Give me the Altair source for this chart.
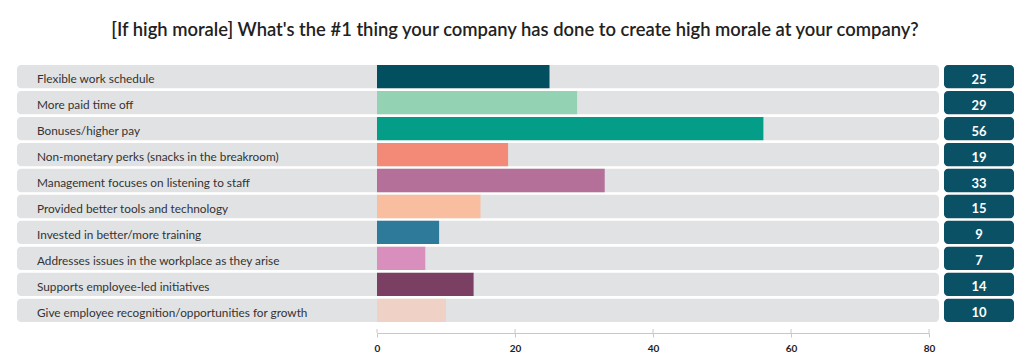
import altair as alt
import pandas as pd

categories = [
    "Flexible work schedule",
    "More paid time off",
    "Bonuses/higher pay",
    "Non-monetary perks (snacks in the breakroom)",
    "Management focuses on listening to staff",
    "Provided better tools and technology",
    "Invested in better/more training",
    "Addresses issues in the workplace as they arise",
    "Supports employee-led initiatives",
    "Give employee recognition/opportunities for growth",
]
values = [25, 29, 56, 19, 33, 15, 9, 7, 14, 10]
colors = ["#02505f", "#94d2b4", "#049e88", "#f38a78", "#b47098",
          "#f9bea0", "#2e7a9a", "#d98fbd", "#7b3f63", "#efd1c6"]
tick_values = [0, 20, 40, 60, 80]
title_text = "[If high morale] What's the #1 thing your company has done to create high morale at your company?"

FONT = "Lato"

df = pd.DataFrame({"category": categories, "value": values})
ticks_df = pd.DataFrame({"value": tick_values})
title_df = pd.DataFrame({"title": [title_text]})

xscale = alt.Scale(domain=[0, 80], range=[369, 921], nice=False, zero=True)
xaxis = alt.Axis(values=tick_values, title=None, grid=False, labelFlush=False,
                 domainColor="#c8c8c8", tickColor="#c8c8c8",
                 tickSize=4, labelPadding=6, labelFontSize=10,
                 labelFont=FONT, labelColor="#222", labelFontWeight="bold")
yenc = alt.Y("category:N", sort=categories,
             scale=alt.Scale(range=[57, 314], paddingInner=0.1, paddingOuter=0),
             axis=None)

base = alt.Chart(df)

background = base.mark_rect(color="#e1e2e4", cornerRadius=4).encode(
    x=alt.value(9), x2=alt.value(931), y=yenc
)

bars = base.mark_bar(cornerRadius=0).encode(
    x=alt.X("value:Q", scale=xscale, axis=xaxis),
    y=yenc,
    color=alt.Color("category:N", scale=alt.Scale(domain=categories, range=colors), legend=None),
)

up_ticks = alt.Chart(ticks_df).mark_rule(color="#c8c8c8").encode(
    x=alt.X("value:Q", scale=xscale, axis=xaxis),
    y=alt.value(321), y2=alt.value(325),
)

labels = base.mark_text(align="left", baseline="middle", fontSize=11.8, dy=2.5,
                        font=FONT, color="#333333").encode(
    x=alt.value(29), y=yenc, text="category:N"
)

boxes = base.mark_rect(color="#0b5166", cornerRadius=4).encode(
    x=alt.value(936), x2=alt.value(1006), y=yenc
)

box_text = base.mark_text(align="center", baseline="middle", fontSize=13, dy=3,
                          fontWeight="bold", font=FONT, color="white").encode(
    x=alt.value(971), y=yenc, text="value:Q"
)

title = alt.Chart(title_df).mark_text(align="center", baseline="middle", fontSize=18.4,
                                      font=FONT, color="#222222", fontWeight=600).encode(
    x=alt.value(507), y=alt.value(22), text="title:N"
)

chart = alt.layer(background, bars, up_ticks, labels, boxes, box_text, title).properties(
    width=1010, height=325,
    autosize=alt.AutoSizeParams(type="none"),
    padding={"left": 0, "top": 0, "right": 0, "bottom": 30},
).configure_view(stroke=None)

chart.save("out.html", embed_options={"renderer": "svg", "actions": False})
